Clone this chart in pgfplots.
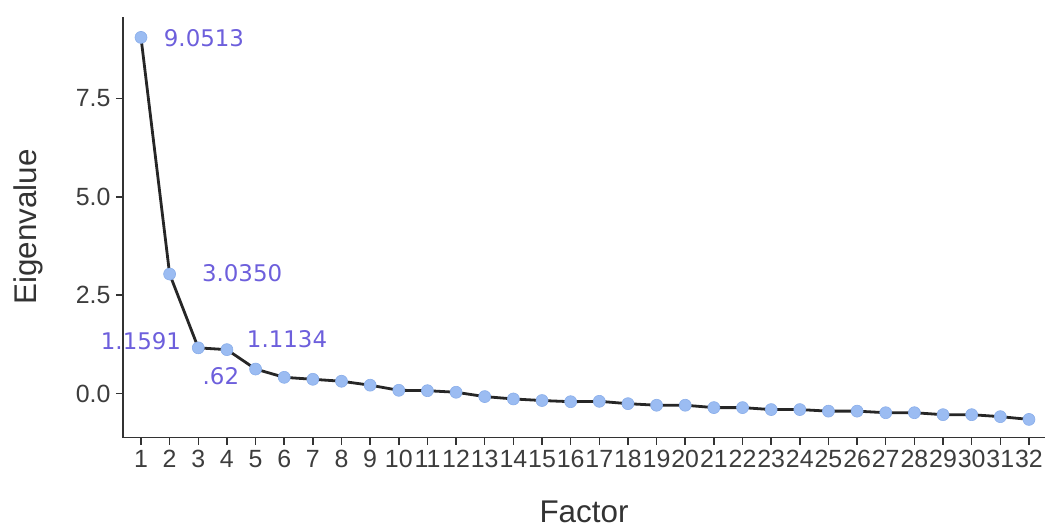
\documentclass[border=0pt]{standalone}
\usepackage{pgfplots}
\pgfplotsset{compat=1.18}
\usepackage{fontspec}
\setmainfont{Liberation Sans}
\newfontfamily\lblfont{DejaVu Sans}
\definecolor{ptcol}{HTML}{9BBCF2}
\definecolor{ptedge}{HTML}{8AAEEA}
\definecolor{lblcol}{HTML}{6D5FDC}
\definecolor{tickcol}{HTML}{3D3D3D}
\definecolor{axcol}{HTML}{333333}
\begin{document}
\begin{tikzpicture}
\begin{axis}[
  name=ax,
  scale only axis,
  width=922bp, height=420.7bp,
  xmin=0.372, xmax=32.56,
  ymin=-1.12, ymax=9.575,
  axis x line*=bottom, axis y line*=left,
  axis line style={axcol, line width=1.2bp},
  tick align=outside,
  major tick length=7bp,
  tick style={axcol, line width=1.5bp},
  xtick={1,...,32},
  ytick={0,2.5,5,7.5},
  yticklabel style={/pgf/number format/fixed, /pgf/number format/fixed zerofill, /pgf/number format/precision=1, xshift=-2bp},
  /pgf/number format/assume math mode=true,
  ticklabel style={font=\fontsize{25}{28}\selectfont, text=tickcol},
  xticklabel style={inner xsep=0pt, yshift=-2bp},
  xlabel={Factor}, ylabel={Eigenvalue},
  label style={font=\fontsize{31.5}{34}\selectfont, text=axcol},
  xlabel style={at={(axis description cs:0.5,-0.176)}, anchor=center, inner sep=0pt},
  ylabel style={at={(axis description cs:-0.103,0.5)}, anchor=center},
  clip=false,
]
\addplot[color=black!85, line width=2.8bp, mark=*, mark size=6bp,
  mark options={fill=ptcol, draw=ptedge, line width=0.6bp}]
coordinates {
(1,9.0513)(2,3.0350)(3,1.1591)(4,1.1134)(5,0.62)(6,0.41)(7,0.36)(8,0.31)
(9,0.21)(10,0.08)(11,0.07)(12,0.03)(13,-0.08)(14,-0.14)(15,-0.18)(16,-0.21)
(17,-0.20)(18,-0.26)(19,-0.30)(20,-0.30)(21,-0.36)(22,-0.36)(23,-0.41)(24,-0.41)
(25,-0.45)(26,-0.45)(27,-0.49)(28,-0.49)(29,-0.54)(30,-0.54)(31,-0.59)(32,-0.66)
};
\node[font=\lblfont\fontsize{23}{26}\selectfont, text=lblcol] at (axis cs:3.20,9.02) {9.0513};
\node[font=\lblfont\fontsize{23}{26}\selectfont, text=lblcol] at (axis cs:4.53,3.07) {3.0350};
\node[font=\lblfont\fontsize{23}{26}\selectfont, text=lblcol] at (axis cs:1.00,1.34) {1.1591};
\node[font=\lblfont\fontsize{23}{26}\selectfont, text=lblcol] at (axis cs:6.10,1.37) {1.1134};
\node[font=\lblfont\fontsize{23}{26}\selectfont, text=lblcol] at (axis cs:3.79,0.45) {.62};
\end{axis}
\pgfresetboundingbox
\path (ax.south west) ++(-123bp,-92.5bp) rectangle ++(1047bp,530bp);
\end{tikzpicture}
\end{document}
